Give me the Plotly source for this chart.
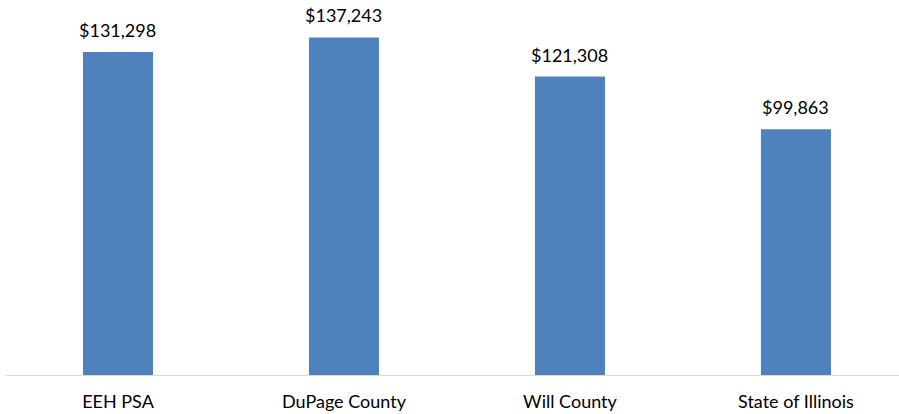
import plotly.graph_objects as go

categories = ["EEH PSA", "DuPage County", "Will County", "State of Illinois"]
values = [131298, 137243, 121308, 99863]
labels = ["$131,298", "$137,243", "$121,308", "$99,863"]

FONT = "Lato, Carlito, Open Sans, sans-serif"

fig = go.Figure(go.Bar(
    x=categories, y=values,
    marker=dict(color="#4f81bd", line=dict(width=0)),
    width=0.31,
    hoverinfo="skip",
))

for c, v, t in zip(categories, values, labels):
    fig.add_annotation(x=c, y=v, text=t, showarrow=False, yanchor="bottom",
                       yshift=9, font=dict(family=FONT, size=18, color="#000000"))

fig.update_layout(
    width=899, height=414,
    margin=dict(l=5, r=0, t=6, b=39),
    paper_bgcolor="white", plot_bgcolor="white",
    showlegend=False,
    font=dict(family=FONT, size=18, color="#000000"),
    xaxis=dict(range=[-0.5, 3.456], showline=True, linecolor="#d9d9d9", linewidth=1,
               showgrid=False, ticks="", ticklabelstandoff=10, fixedrange=True),
    yaxis=dict(range=[0, 150000], visible=False, showgrid=False, fixedrange=True),
)

fig.write_html("out.html", config={"displayModeBar": False},
               post_script="document.body.style.margin='0';document.body.style.padding='0';")
